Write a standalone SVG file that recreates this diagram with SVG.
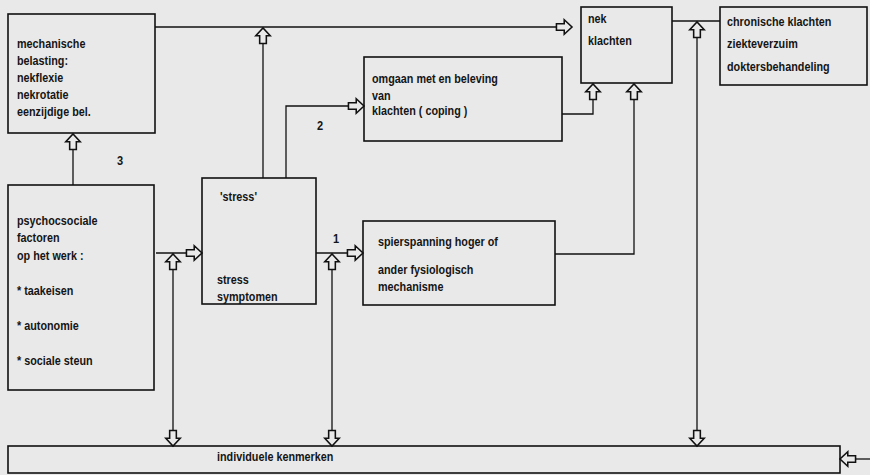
<svg xmlns="http://www.w3.org/2000/svg" width="870" height="475" viewBox="0 0 870 475">
<style>
.bx{fill:none;stroke:#111;stroke-width:1.6}
.ln{fill:none;stroke:#111;stroke-width:1.3}
text{font-family:"Liberation Sans",Arial,sans-serif;font-weight:bold;font-size:13.5px;fill:#151515}
</style>
<defs>
<marker id="ar" markerUnits="userSpaceOnUse" markerWidth="20" markerHeight="20" viewBox="-16 -8 18 16" refX="0" refY="0" orient="auto-start-reverse">
<path d="M-14,-3 L-7,-3 L-7,-6.5 L0,0 L-7,6.5 L-7,3 L-14,3 Z" fill="#e9e9e9" stroke="#111" stroke-width="1.4" stroke-linejoin="miter"/>
</marker>
</defs>
<rect width="870" height="475" fill="#e9e9e9"/>
<g id="connectors">
<path class="ln" d="M155,27 H572" marker-end="url(#ar)"/>
<path class="ln" d="M263,178 V28" marker-end="url(#ar)"/>
<path class="ln" d="M286,178 V106 H364" marker-end="url(#ar)"/>
<path class="ln" d="M73,185 V134" marker-end="url(#ar)"/>
<path class="ln" d="M156,253 H202" marker-end="url(#ar)"/>
<path class="ln" d="M173,254 V446" marker-start="url(#ar)" marker-end="url(#ar)"/>
<path class="ln" d="M316,253 H363" marker-end="url(#ar)"/>
<path class="ln" d="M332,254 V446" marker-start="url(#ar)" marker-end="url(#ar)"/>
<path class="ln" d="M562,114 H593 V84" marker-end="url(#ar)"/>
<path class="ln" d="M555,254 H634 V84" marker-end="url(#ar)"/>
<path class="ln" d="M672,21 H720"/>
<path class="ln" d="M697,22 V446" marker-start="url(#ar)" marker-end="url(#ar)"/>
<path class="ln" d="M870,459 H840" marker-end="url(#ar)"/>
<text transform="translate(117 165) scale(.82 1)">3</text>
<text transform="translate(317 130) scale(.82 1)">2</text>
<text transform="translate(333 243) scale(.82 1)">1</text>
</g>
<g id="mechanisch">
<rect class="bx" x="8" y="14" width="147" height="119"/>
<text transform="translate(17 48) scale(.8 1)">mechanische</text>
<text transform="translate(17 65) scale(.8 1)">belasting:</text>
<text transform="translate(17 82) scale(.8 1)">nekflexie</text>
<text transform="translate(17 99) scale(.8 1)">nekrotatie</text>
<text transform="translate(17 116) scale(.8 1)">eenzijdige bel.</text>
</g>
<g id="psychosociaal">
<rect class="bx" x="8" y="185" width="146" height="205"/>
<text transform="translate(17 225) scale(.8 1)">psychocsociale</text>
<text transform="translate(17 242) scale(.8 1)">factoren</text>
<text transform="translate(17 260) scale(.8 1)">op het werk :</text>
<text transform="translate(17 295) scale(.8 1)">* taakeisen</text>
<text transform="translate(17 330) scale(.8 1)">* autonomie</text>
<text transform="translate(17 365) scale(.8 1)">* sociale steun</text>
</g>
<g id="stress">
<rect class="bx" x="202" y="178" width="114" height="126"/>
<text transform="translate(220 201) scale(.8 1)">'stress'</text>
<text transform="translate(217 284) scale(.8 1)">stress</text>
<text transform="translate(217 301) scale(.8 1)">symptomen</text>
</g>
<g id="coping">
<rect class="bx" x="364" y="57" width="198" height="84"/>
<text transform="translate(372 83) scale(.8 1)">omgaan met en beleving</text>
<text transform="translate(372 100) scale(.8 1)">van</text>
<text transform="translate(372 115) scale(.8 1)">klachten ( coping )</text>
</g>
<g id="spierspanning">
<rect class="bx" x="363" y="221" width="192" height="84"/>
<text transform="translate(378 246) scale(.8 1)">spierspanning hoger of</text>
<text transform="translate(378 274) scale(.8 1)">ander fysiologisch</text>
<text transform="translate(378 291) scale(.8 1)">mechanisme</text>
</g>
<g id="nekklachten">
<rect class="bx" x="581" y="7" width="91" height="76"/>
<text transform="translate(588 23) scale(.8 1)">nek</text>
<text transform="translate(588 45) scale(.8 1)">klachten</text>
</g>
<g id="gevolgen">
<rect class="bx" x="720" y="7" width="147" height="78"/>
<text transform="translate(727 26) scale(.8 1)">chronische klachten</text>
<text transform="translate(727 48) scale(.8 1)">ziekteverzuim</text>
<text transform="translate(727 71) scale(.8 1)">doktersbehandeling</text>
</g>
<g id="individueel">
<rect class="bx" x="8" y="446" width="832" height="27"/>
<text transform="translate(217 461) scale(.8 1)">individuele kenmerken</text>
</g>
</svg>
